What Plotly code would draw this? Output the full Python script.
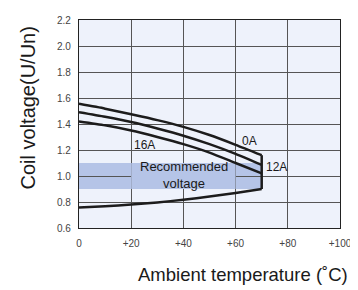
import plotly.graph_objects as go

temps = [0, 10, 20, 30, 40, 50, 60, 70]
v_0a = [1.555, 1.518, 1.475, 1.43, 1.378, 1.315, 1.24, 1.16]
v_12a = [1.49, 1.455, 1.415, 1.365, 1.31, 1.245, 1.17, 1.085]
v_16a = [1.42, 1.39, 1.35, 1.30, 1.245, 1.18, 1.10, 1.02]
v_min = [0.757, 0.767, 0.78, 0.797, 0.817, 0.842, 0.87, 0.90]
end_temp = 70
band_low, band_high = 0.9, 1.1
x_ticks = [0, 20, 40, 60, 80, 100]
x_labels = ["0", "+20", "+40", "+60", "+80", "+100"]
y_ticks = [0.6, 0.8, 1.0, 1.2, 1.4, 1.6, 1.8, 2.0, 2.2]
y_labels = ["0.6", "0.8", "1.0", "1.2", "1.4", "1.6", "1.8", "2.0", "2.2"]

FONT = "Liberation Sans, Arial, sans-serif"
LINE = "#1c1c1c"

fig = go.Figure()
for ys in (v_0a, v_12a, v_16a, v_min):
    fig.add_trace(go.Scatter(x=temps, y=ys, mode="lines",
                             line=dict(color=LINE, width=2.5, shape="spline", smoothing=0.6),
                             hoverinfo="skip", showlegend=False))
fig.add_trace(go.Scatter(x=[end_temp, end_temp], y=[v_min[-1], v_0a[-1]], mode="lines",
                         line=dict(color=LINE, width=2.5), hoverinfo="skip", showlegend=False))

fig.add_shape(type="rect", xref="x", yref="y", x0=0, x1=end_temp, y0=band_low, y1=band_high,
              fillcolor="#b5c4e7", line_width=0, layer="below")
fig.add_shape(type="rect", xref="x", yref="y", x0=20, x1=60, y0=band_low, y1=band_high,
              fillcolor="#b5c4e7", line_width=0, layer="between")

ann_font = dict(family=FONT, size=12, color="#1a1a1a")
fig.add_annotation(x=25, y=1.235, text="16A", showarrow=False, font=ann_font)
fig.add_annotation(x=65.3, y=1.273, text="0A", showarrow=False, font=ann_font)
fig.add_annotation(x=75.8, y=1.07, text="12A", showarrow=False, font=ann_font)
fig.add_annotation(x=40.2, y=1.005, text="Recommended<br>voltage", showarrow=False,
                   font=dict(family=FONT, size=13, color="#1a1a1a"))

fig.add_annotation(xref="paper", yref="paper", x=-0.195, y=0.575, text="Coil voltage(U/Un)",
                   textangle=-90, showarrow=False, xanchor="center", yanchor="middle",
                   font=dict(family=FONT, size=20, color="#1a1a1a"))
fig.add_annotation(xref="paper", yref="paper", x=0.63, y=-0.224, text="Ambient temperature (\u02daC)",
                   showarrow=False, xanchor="center", yanchor="middle",
                   font=dict(family=FONT, size=18.5, color="#1a1a1a"))

fig.update_xaxes(range=[0, 100], tickvals=x_ticks, ticktext=x_labels,
                 showgrid=True, gridcolor="#555", gridwidth=1,
                 showline=True, linecolor="#222", linewidth=1.2, mirror=True,
                 ticks="outside", ticklen=6, tickcolor="rgba(0,0,0,0)",
                 tickfont=dict(family=FONT, size=10, color="#444"), zeroline=False)
fig.update_yaxes(range=[0.6, 2.2], tickvals=y_ticks, ticktext=y_labels,
                 showgrid=True, gridcolor="#555", gridwidth=1,
                 showline=True, linecolor="#222", linewidth=1.2, mirror=True,
                 ticks="outside", ticklen=5, tickcolor="rgba(0,0,0,0)",
                 tickfont=dict(family=FONT, size=10, color="#444"), zeroline=False)

# page body has an 8px margin, so the figure is sized 8px smaller to land on the same pixels
fig.update_layout(width=350, height=282, margin=dict(l=71, r=14, t=6, b=62),
                  plot_bgcolor="#eef2fb", paper_bgcolor="white")

fig.write_html("out.html")
